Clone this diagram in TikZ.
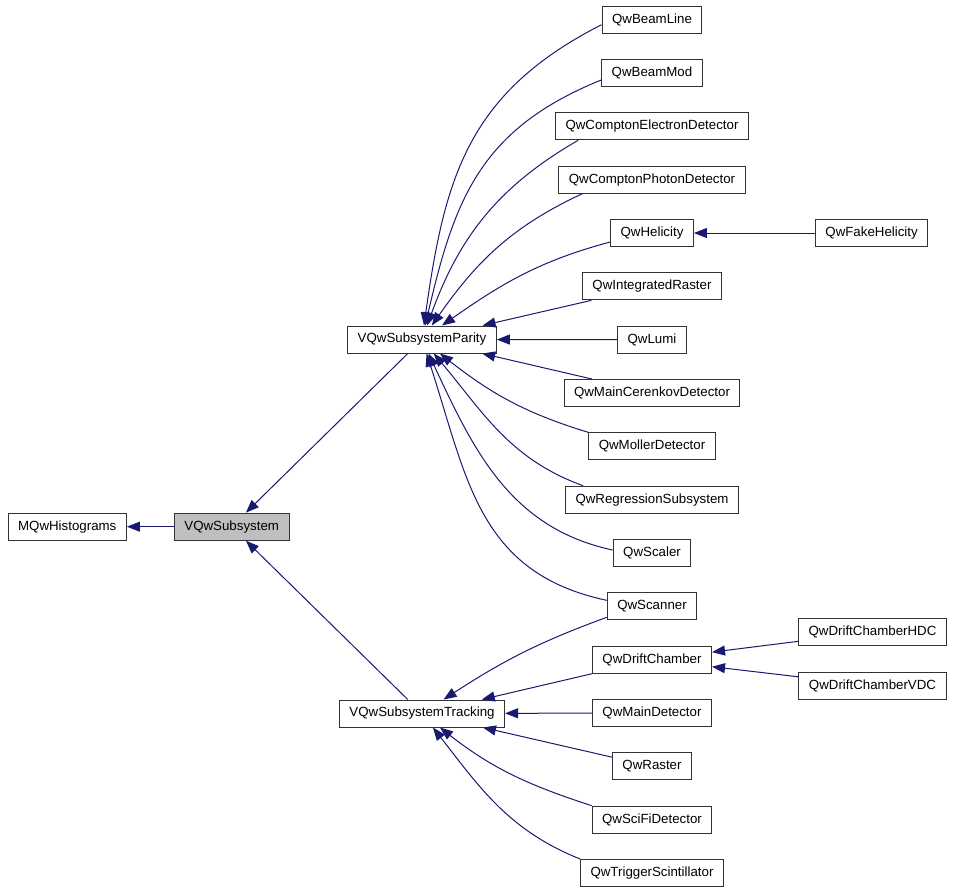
\documentclass[tikz,border=0pt]{standalone}
\usepackage{fontspec}
\setmainfont{Liberation Sans}
\usetikzlibrary{arrows.meta,positioning}
\definecolor{edgeblue}{RGB}{25,25,112}
\tikzset{
every picture/.style={
line width=1pt
},
cls/.style={draw=black!80, fill=white, line width=1pt, minimum height=27pt, inner xsep=10pt, inner ysep=0pt, font=\fontsize{13.3}{16}\selectfont},
every edge/.append style={draw=edgeblue}
}

\begin{document}
\begin{tikzpicture}[<-,>={Triangle[length=13pt,width=10pt]},x=1pt,y=1pt,node distance=53.33pt]

\useasboundingbox (0,0) rectangle (955,-893);

\node[cls] (beamline) at (652,-19.7) {QwBeamLine};
\node[cls] (beammod) [below of=beamline] {QwBeamMod};
\node[cls] (ced) [below of=beammod] {QwComptonElectronDetector};
\node[cls] (cpd) [below of=ced] {QwComptonPhotonDetector};
\node[cls] (helicity) [below of=cpd] {QwHelicity};
\node[cls] (intraster) [below of=helicity] {QwIntegratedRaster};
\node[cls] (lumi) [below of=intraster] {QwLumi};
\node[cls] (cerenkov) [below of=lumi] {QwMainCerenkovDetector};
\node[cls] (moller) [below of=cerenkov] {QwMollerDetector};
\node[cls] (regression) [below of=moller] {QwRegressionSubsystem};
\node[cls] (scaler) [below of=regression] {QwScaler};
\node[cls] (scanner) [below of=scaler] {QwScanner};
\node[cls] (driftch) [below of=scanner] {QwDriftChamber};
\node[cls] (maindet) [below of=driftch] {QwMainDetector};
\node[cls] (raster) [below of=maindet] {QwRaster};
\node[cls] (scifi) [below of=raster] {QwSciFiDetector};
\node[cls] (trigger) [below of=scifi] {QwTriggerScintillator};

\node[cls] (parity) at (422,-339.5) {VQwSubsystemParity};
\node[cls] (tracking) at (422,-713.5) {VQwSubsystemTracking};
\node[cls, fill=black!25] (subsys) at (231.7,-526.7) {VQwSubsystem};
\node[cls] (histos) [left=47pt of subsys] {MQwHistograms};
\node[cls] (fakehel) [right=121pt of helicity] {QwFakeHelicity};
\node[cls] (hdc) at (872.5,-632) {QwDriftChamberHDC};
\node[cls] (vdc) at (872.5,-685.5) {QwDriftChamberVDC};

\path (histos) edge (subsys)
(subsys) edge (parity)
(subsys) edge (tracking)
(parity) edge [out=82,in=207,looseness=1.1] ([yshift=-5pt]beamline.west)
(parity) edge [out=77,in=202,looseness=1.1] ([yshift=-7pt]beammod.west)
(parity) edge [out=70,in=210] ([xshift=23pt]ced.south west)
(parity) edge [out=55,in=205] ([xshift=24pt]cpd.south west)
(parity) edge [out=35,in=195] ([yshift=-9pt]helicity.west)
(parity) edge (intraster)
(parity) edge (lumi)
(parity) edge (cerenkov)
(parity) edge [out=-38,in=163] (moller.north west)
(parity) edge [out=-50,in=160] ([xshift=18pt]regression.north west)
(parity) edge [out=-65,in=168] ([yshift=3pt]scaler.west)
(parity) edge [out=-72,in=168,looseness=1.1] ([yshift=6pt]scanner.west)
(helicity) edge (fakehel)
(tracking) edge [out=33,in=200] ([yshift=-11pt]scanner.west)
(tracking) edge (driftch)
(tracking) edge (maindet)
(tracking) edge (raster)
(tracking) edge [out=-38,in=162] (scifi.north west)
(tracking) edge [out=-52,in=158] (trigger.north west)
(driftch) edge (hdc)
(driftch) edge (vdc);
\end{tikzpicture}
\end{document}
